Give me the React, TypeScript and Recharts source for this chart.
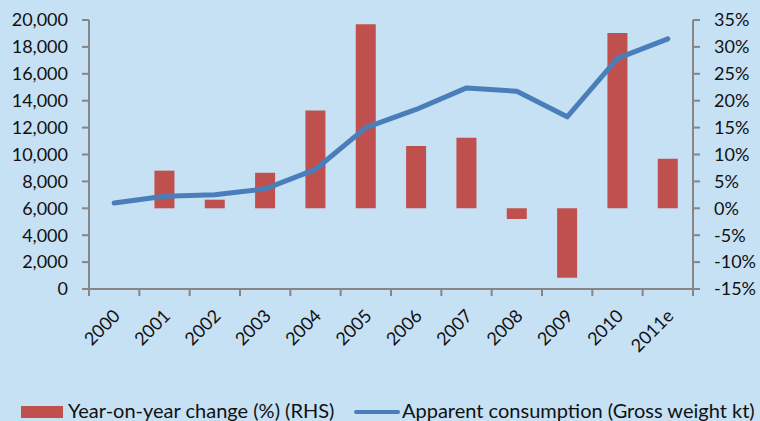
import React from "react";
import { ComposedChart, Bar, Line, XAxis, YAxis } from "recharts";

const categories = ["2000", "2001", "2002", "2003", "2004", "2005", "2006", "2007", "2008", "2009", "2010", "2011e"];
const consumption = [6400, 6900, 7000, 7450, 8900, 12000, 13350, 14950, 14700, 12800, 17150, 18600];
const yoyChange = [null, 7.0, 1.6, 6.6, 18.2, 34.2, 11.6, 13.1, -2.0, -12.9, 32.6, 9.2];
const leftTicks = [0, 2000, 4000, 6000, 8000, 10000, 12000, 14000, 16000, 18000, 20000];
const rightTicks = [-15, -10, -5, 0, 5, 10, 15, 20, 25, 30, 35];
const seriesNames = ["Year-on-year change (%) (RHS)", "Apparent consumption (Gross weight kt)"];

const data = categories.map((c, i) => ({ cat: c, cons: consumption[i], yoy: yoyChange[i] }));

const W = 760;
const H = 421;
const LEFT = 89;
const RIGHT = 693;
const TOP = 20;
const BOTTOM = 289;
const HALF_BAND = (RIGHT - LEFT) / categories.length / 2;
const FONT = "Lato, 'Open Sans', sans-serif";
const AXIS = "#868686";
const BG = "#C6E0F4";
const RED = "#C0504D";
const BLUE = "#4A7EBB";

const XTick = (props: any) => {
  const { x, payload, index } = props;
  const isLast = index === categories.length - 1;
  const px = x + 7;
  const py = BOTTOM + 28;
  return (
    <g>
      <line x1={x - HALF_BAND} x2={x - HALF_BAND} y1={BOTTOM} y2={BOTTOM + 7} stroke={AXIS} strokeWidth={2} />
      {isLast && <line x1={x + HALF_BAND} x2={x + HALF_BAND} y1={BOTTOM} y2={BOTTOM + 7} stroke={AXIS} strokeWidth={2} />}
      <text
        x={px}
        y={py}
        transform={`rotate(-45, ${px}, ${py})`}
        textAnchor="end"
        fontFamily={FONT}
        fontSize={18}
        fill="#111"
      >
        {payload.value}
      </text>
    </g>
  );
};

export default function App() {
  return (
    <div style={{ position: "absolute", left: 0, top: 0, width: W, height: H, background: BG, overflow: "hidden" }}>
      <ComposedChart
        width={W}
        height={H}
        data={data}
        margin={{ top: TOP, right: 0, left: 0, bottom: H - BOTTOM - 60 }}
        barCategoryGap="30%"
      >
        <XAxis
          dataKey="cat"
          height={60}
          axisLine={{ stroke: AXIS, strokeWidth: 2 }}
          tickLine={false}
          tick={<XTick />}
          interval={0}
        />
        <YAxis
          yAxisId="left"
          orientation="left"
          width={LEFT}
          domain={[0, 20000]}
          ticks={leftTicks}
          interval={0}
          tickFormatter={(v: number) => v.toLocaleString("en-US")}
          axisLine={{ stroke: AXIS, strokeWidth: 2 }}
          tickLine={{ stroke: AXIS, strokeWidth: 2 }}
          tickSize={7}
          tickMargin={14}
          tick={{ fontFamily: FONT, fontSize: 18, fill: "#111" }}
        />
        <YAxis
          yAxisId="right"
          orientation="right"
          width={W - RIGHT}
          domain={[-15, 35]}
          ticks={rightTicks}
          interval={0}
          tickFormatter={(v: number) => `${v}%`}
          axisLine={{ stroke: AXIS, strokeWidth: 2 }}
          tickLine={{ stroke: AXIS, strokeWidth: 2 }}
          tickSize={7}
          tickMargin={14}
          tick={{ fontFamily: FONT, fontSize: 18, fill: "#111", textAnchor: "start" }}
        />
        <Bar yAxisId="right" dataKey="yoy" fill={RED} isAnimationActive={false} />
        <Line
          yAxisId="left"
          dataKey="cons"
          type="linear"
          stroke={BLUE}
          strokeWidth={5}
          dot={false}
          strokeLinecap="round"
          strokeLinejoin="round"
          isAnimationActive={false}
        />
      </ComposedChart>
      <div style={{ position: "absolute", left: 21, top: 406, width: 42, height: 12, background: RED }} />
      <div style={{ position: "absolute", left: 68, top: 400, fontFamily: FONT, fontSize: 20, lineHeight: "20px", color: "#111", whiteSpace: "nowrap" }}>
        {seriesNames[0]}
      </div>
      <div style={{ position: "absolute", left: 354, top: 410, width: 46, height: 4, background: BLUE, borderRadius: 2 }} />
      <div style={{ position: "absolute", left: 402, top: 400, fontFamily: FONT, fontSize: 20, lineHeight: "20px", color: "#111", whiteSpace: "nowrap" }}>
        {seriesNames[1]}
      </div>
    </div>
  );
}
